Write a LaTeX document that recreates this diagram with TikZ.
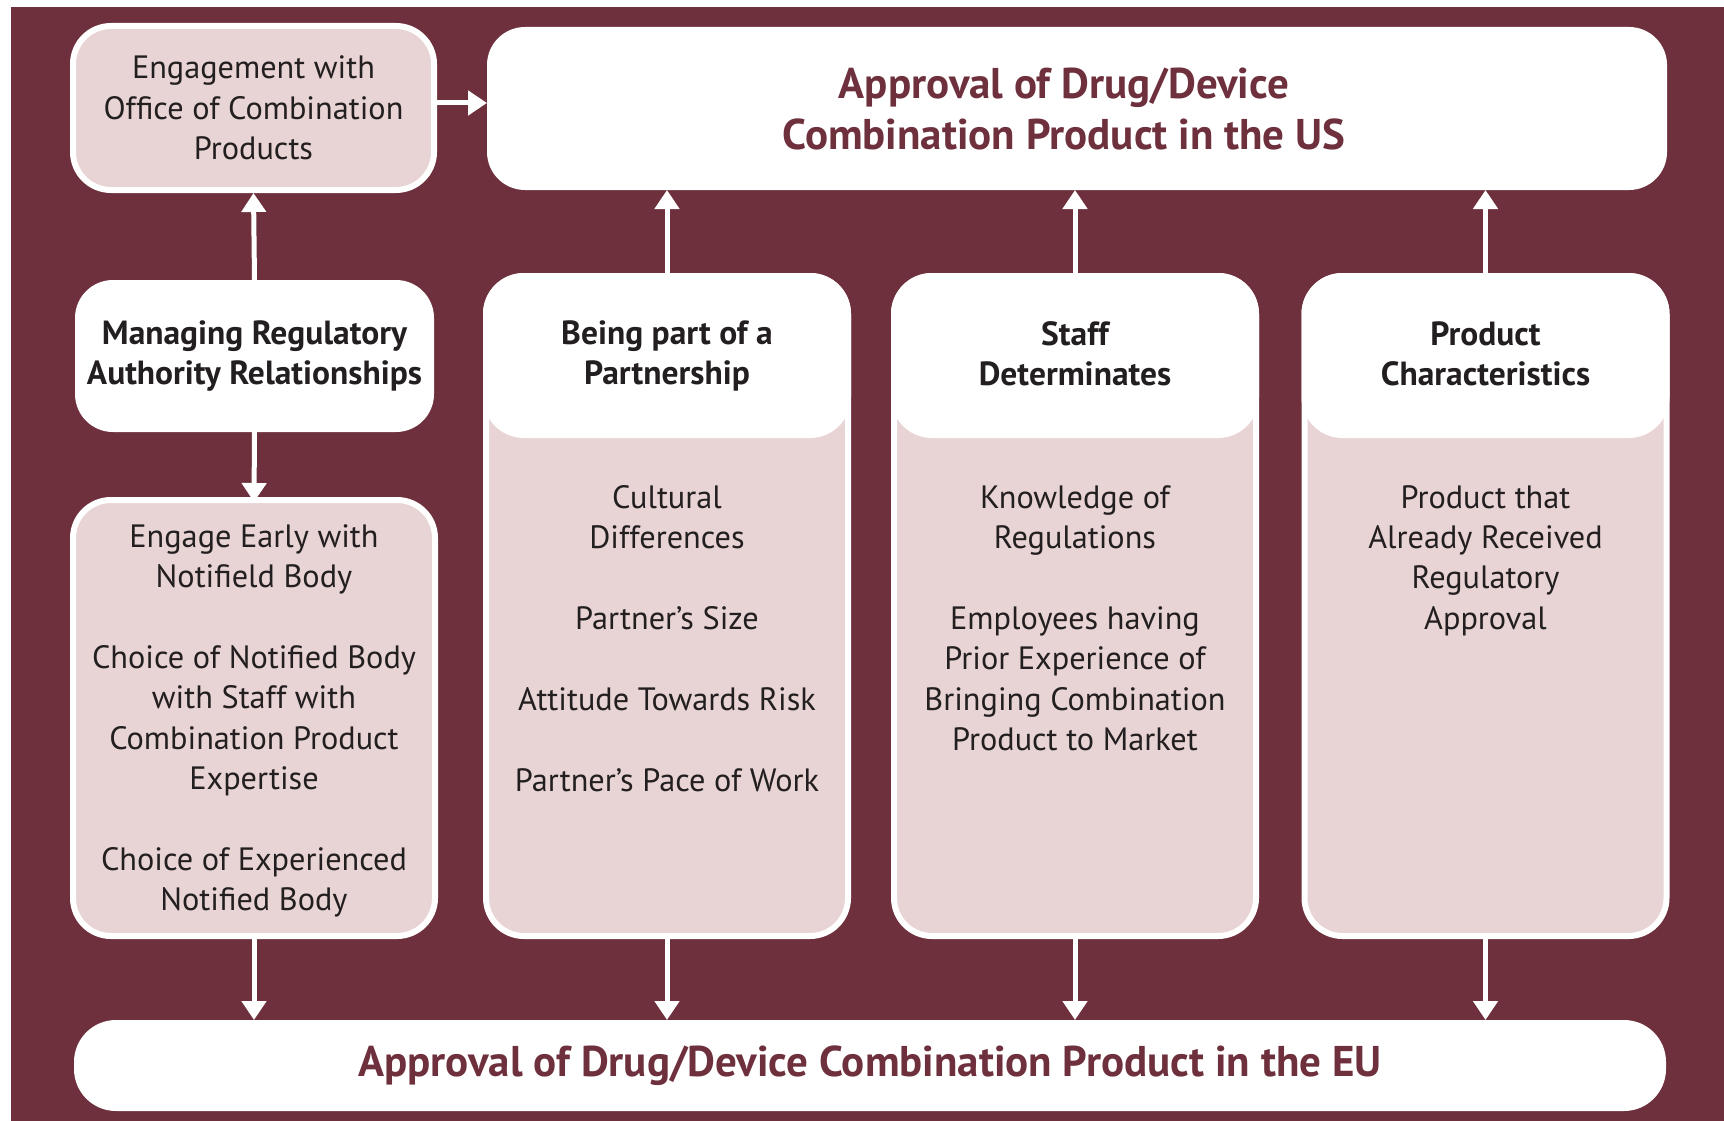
\documentclass[tikz,border=0pt]{standalone}
\usepackage{fontspec}
\setmainfont{PT Sans}
\usetikzlibrary{arrows.meta,calc}
\definecolor{maroon}{HTML}{6D303C}
\definecolor{pinkfill}{HTML}{E8D4D4}
\definecolor{txt}{HTML}{231F20}
\begin{document}
\begin{tikzpicture}[x=1pt,y=-1pt,
  bodytxt/.style={font=\fontsize{32.3}{40.4}\selectfont, text=txt, align=center},
  headtxt/.style={font=\bfseries\fontsize{33.5}{40.5}\selectfont, text=txt, align=center},
  titletxt/.style={font=\bfseries\fontsize{43}{51}\selectfont, text=maroon, align=center},
  pinkbox/.style={draw=white, line width=6pt, fill=pinkfill, rounded corners=38pt, outer sep=3pt, inner sep=0pt},
  whitebox/.style={fill=white, draw=none, rounded corners=38pt, outer sep=0pt, inner sep=0pt},
  conn/.style={draw=white, line width=5pt, -{Triangle[length=19pt,width=24pt]}}
]
\useasboundingbox (0,0) rectangle (1724,1121);
\fill[white] (0,0) rectangle (1724,1121);
\fill[maroon] (11,7) rectangle (1724,1121);

% top-left box
\node[pinkbox, bodytxt, minimum width=361pt, minimum height=164pt] (eng) at (253.5,108)
  {Engagement with\\Office of Combination\\Products};
% US box
\node[whitebox, minimum width=1180pt, minimum height=163pt] (us) at (1077,108.5) {};
\node[titletxt, inner sep=0pt] (ustxt) at (1064,108.5)
  {Approval of Drug/Device\\Combination Product in the US};
% managing box
\node[whitebox, headtxt, minimum width=359pt, minimum height=152pt] (mgr) at (254.5,356)
  {Managing Regulatory\\Authority Relationships};
% engage early box
\node[pinkbox, bodytxt, minimum width=362pt, minimum height=436pt] (early) at (254,718)
  {};
\node[bodytxt, inner sep=0pt] (earlytxt) at (254,721)
  {Engage Early with\\Notifield Body\\[40.4pt]Choice of Notified Body\\with Staff with\\Combination Product\\Expertise\\[40.4pt]Choice of Experienced\\Notified Body};

% columns
\foreach \n/\cx in {c1/667,c2/1075,c3/1485.5}{
  \node[pinkbox, minimum width=362pt, minimum height=660pt] (\n) at (\cx,606) {};
  \fill[white, rounded corners=41pt] (\n.north west) rectangle (\n.east |- 0,438);
}
\node[headtxt, inner sep=0pt] (h1) at (667,356) {Being part of a\\Partnership};
\node[headtxt, inner sep=0pt] (h2) at (1075,354) {Staff\\Determinates};
\node[headtxt, inner sep=0pt] (h3) at (1485.5,354) {Product\\Characteristics};

\node[bodytxt, anchor=north, inner sep=0pt] (b1) at (667,485)
  {Cultural\\Differences\\[40.4pt]Partner’s Size\\[40.4pt]Attitude Towards Risk\\[40.4pt]Partner’s Pace of Work};
\node[bodytxt, anchor=north, inner sep=0pt] (b2) at (1075,485)
  {Knowledge of\\Regulations\\[40.4pt]Employees having\\Prior Experience of\\Bringing Combination\\Product to Market};
\node[bodytxt, anchor=north, inner sep=0pt] (b3) at (1485.5,485)
  {Product that\\Already Received\\Regulatory\\Approval};

% EU box
\node[whitebox, titletxt, rounded corners=42pt, minimum width=1592pt, minimum height=91pt] (eu) at (870,1065.5)
  {Approval of Drug/Device Combination Product in the EU};

% connectors
\draw[conn] ([yshift=5pt]eng.east) -- ([yshift=5pt]eng.east -| us.west);
\draw[conn] (mgr.north) -- (eng.south);
\draw[conn] (mgr.south) -- ([yshift=-5pt]early.north);
\foreach \n in {c1,c2,c3}{
  \draw[conn] (\n.north) -- (\n.north |- us.south);
  \draw[conn] (\n.south) -- (\n.south |- eu.north);
}
\draw[conn] (early.south) -- (early.south |- eu.north);
\end{tikzpicture}
\end{document}
